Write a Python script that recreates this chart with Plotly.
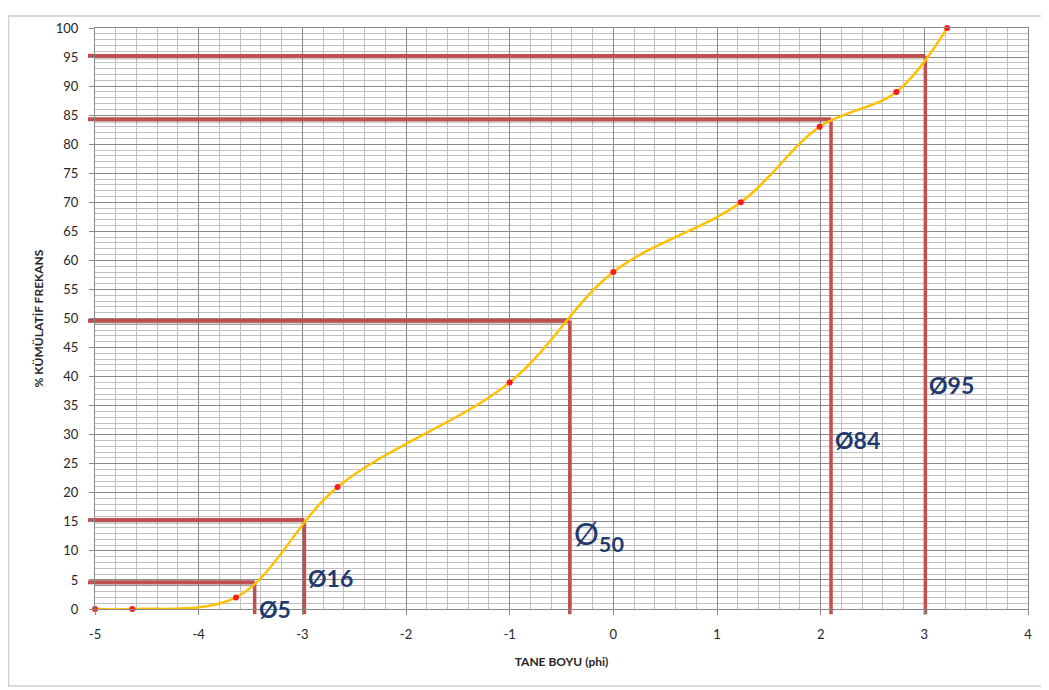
import plotly.graph_objects as go

# ---- data ----
phi = [-5.0, -4.64, -3.64, -2.66, -1.0, 0.0, 1.23, 1.99, 2.73, 3.22]
cum_pct = [0, 0, 2, 21, 39, 58, 70, 83, 89, 100]

# percentile read-offs (phi value, cumulative %)
perc_phi = [-3.46, -2.98, -0.42, 2.10, 3.01]
perc_pct = [4.6, 15.3, 49.6, 84.3, 95.2]
perc_text = ["<b>Ø5</b>", "<b>Ø16</b>", "Ø<sub><b>50</b></sub>", "<b>Ø84</b>", "<b>Ø95</b>"]
label_y = [0.0, 5.3, 12.6, 29.1, 38.6]

x_ticks = [-5, -4, -3, -2, -1, 0, 1, 2, 3, 4]
y_ticks = list(range(0, 101, 5))

FONT = "Lato"
RED = "#c0504d"
NAVY = "#1f3a6e"
MAJOR = "#8a8a8a"
MINOR = "#c0c0c0"

fig = go.Figure()

fig.add_trace(go.Scatter(
    x=phi, y=cum_pct, mode="lines+markers",
    line=dict(color="#ffc000", width=2.5, shape="spline", smoothing=1.0),
    marker=dict(color="#ff1a1a", size=6),
    showlegend=False, cliponaxis=False,
))

shapes = []
for p, q in zip(perc_phi, perc_pct):
    # soft shadow under horizontal line
    shapes.append(dict(type="line", xref="x", yref="y", x0=-5, x1=p, y0=q - 0.25, y1=q - 0.25,
                       line=dict(color="rgba(0,0,0,0.18)", width=5), layer="between"))
    shapes.append(dict(type="line", xref="x", yref="y", x0=-5, x1=p, y0=q, y1=q,
                       line=dict(color=RED, width=4), layer="between"))
    shapes.append(dict(type="line", xref="paper", yref="y", x0=-0.0075, x1=0, y0=q, y1=q,
                       line=dict(color=RED, width=4), layer="between"))
    shapes.append(dict(type="line", xref="x", yref="y", x0=p, x1=p, y0=0, y1=q,
                       line=dict(color=RED, width=3.5), layer="between"))
    shapes.append(dict(type="line", xref="x", yref="paper", x0=p, x1=p, y0=-0.009, y1=0,
                       line=dict(color=RED, width=3.5), layer="between"))

# outer chart frame
shapes.append(dict(type="rect", xref="paper", yref="paper", x0=-0.0927, x1=1.04, y0=-0.1327, y1=1.0205,
                   line=dict(color="#d0d0d0", width=1.5), fillcolor="rgba(0,0,0,0)"))

annotations = []
for p, t, ly in zip(perc_phi, perc_text, label_y):
    size = 31 if "sub" in t else 23
    annotations.append(dict(x=p, y=ly, xref="x", yref="y", text=t, showarrow=False,
                            xanchor="left", yanchor="middle", xshift=2,
                            font=dict(family=FONT, size=size, color=NAVY)))

fig.update_layout(
    width=1049, height=690,
    margin=dict(l=87, r=29, t=13, b=89),
    paper_bgcolor="white", plot_bgcolor="white",
    shapes=shapes, annotations=annotations,
    xaxis=dict(
        range=[-5, 4], tickvals=x_ticks, ticktext=[str(v) for v in x_ticks],
        showgrid=True, gridcolor=MAJOR, gridwidth=1,
        minor=dict(dtick=0.2, tick0=-5, showgrid=True, gridcolor=MINOR, gridwidth=1),
        zeroline=False, showline=True, mirror=True, linecolor=MAJOR, linewidth=1,
        ticks="outside", ticklen=5, tickcolor=MAJOR,
        tickfont=dict(family=FONT, size=13, color="#262626"),
        ticklabelstandoff=8,
        title=dict(text="<b>TANE BOYU (phi)</b>", font=dict(family=FONT, size=12, color="#262626"), standoff=17),
    ),
    yaxis=dict(
        range=[0, 100], tickvals=y_ticks, ticktext=[str(v) for v in y_ticks],
        showgrid=True, gridcolor=MAJOR, gridwidth=1,
        minor=dict(dtick=1, tick0=0, showgrid=True, gridcolor=MINOR, gridwidth=1),
        zeroline=False, showline=True, mirror=True, linecolor=MAJOR, linewidth=1,
        ticks="outside", ticklen=5, tickcolor=MAJOR,
        tickfont=dict(family=FONT, size=13, color="#262626"),
        ticklabelstandoff=8,
        title=dict(text="<b>% KÜMÜLATİF FREKANS</b>", font=dict(family=FONT, size=12, color="#262626"), standoff=9),
    ),
)

fig.write_html("out.html")
